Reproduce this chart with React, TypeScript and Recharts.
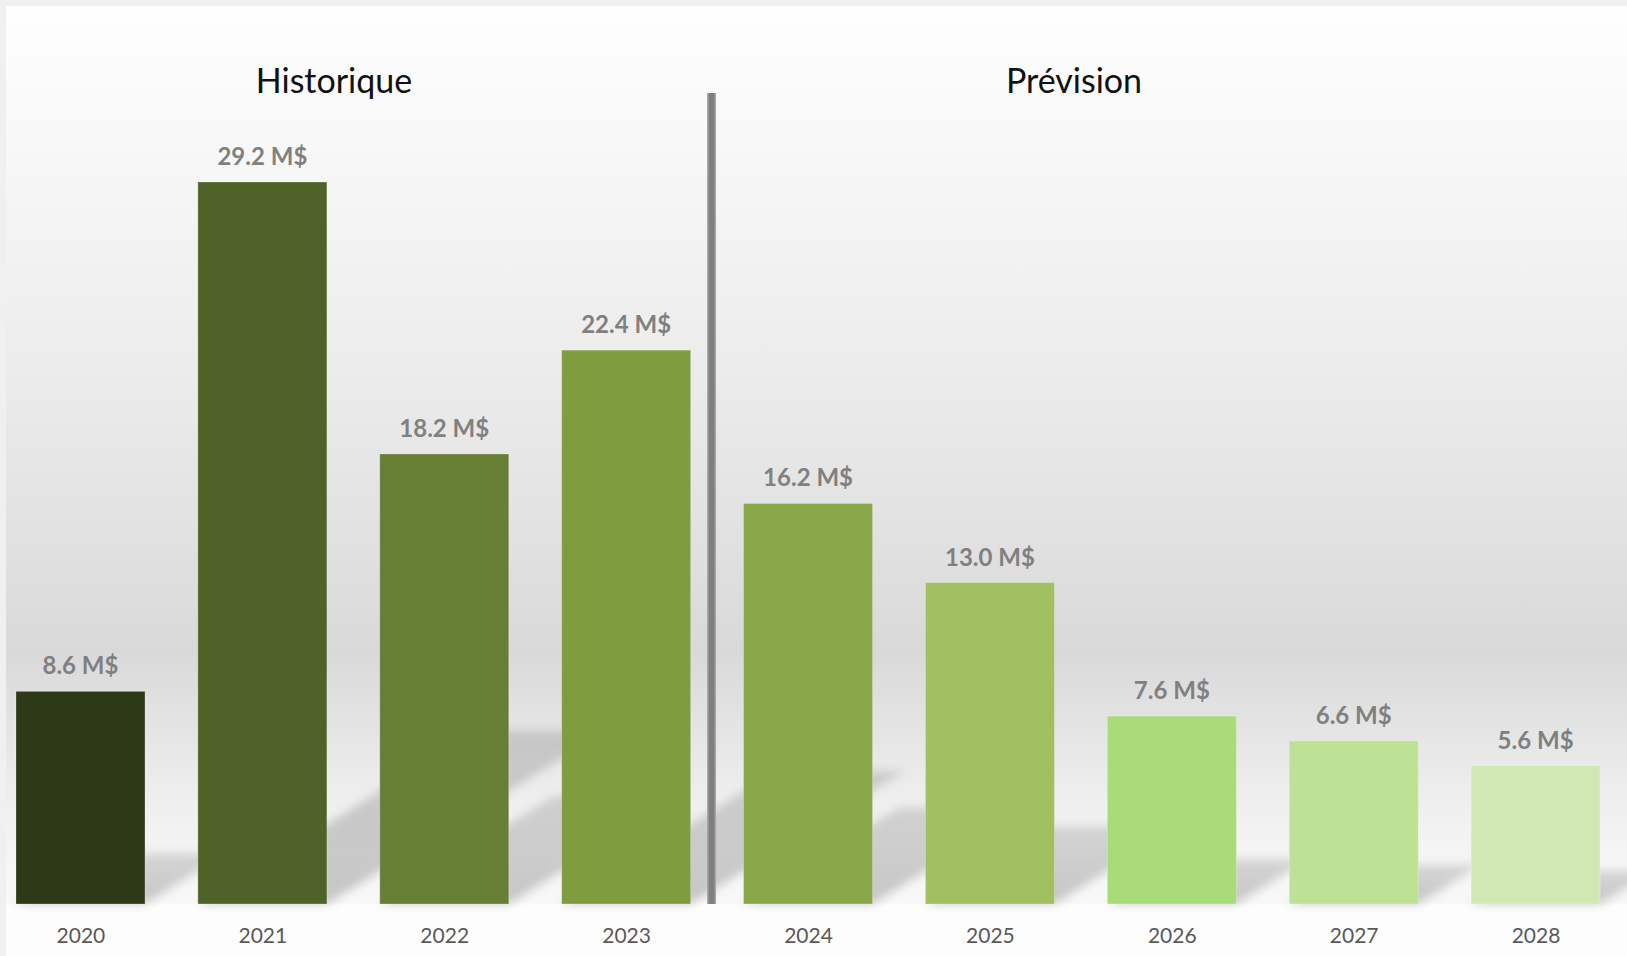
import React from "react";
import {
  BarChart,
  Bar,
  XAxis,
  YAxis,
  Cell,
  LabelList,
  ReferenceLine,
} from "recharts";

const years = ["2020", "2021", "2022", "2023", "2024", "2025", "2026", "2027", "2028"];
const values = [8.6, 29.2, 18.2, 22.4, 16.2, 13.0, 7.6, 6.6, 5.6];
const barColors = [
  "#2e3918",
  "#4f6228",
  "#677e35",
  "#7f9d3f",
  "#89a84a",
  "#a1c062",
  "#a9dc78",
  "#bde295",
  "#d0e9b3",
];
const sectionTitles = ["Historique", "Prévision"];
const splitYear = "2024";

const data = years.map((year, i) => ({ year, value: values[i] }));

const FONT = "Lato, 'Open Sans', sans-serif";

// bar with a skewed "perspective" shadow falling up and to the right
const ShadowBar = (props: any) => {
  const { x, y, width, height, index } = props;
  if (!height || height <= 0) return null;
  const base = y + height;
  const dy = height * 0.24;
  const dx = dy / 0.62;
  const pts = [
    [x, base],
    [x + width, base],
    [x + width + dx, base - dy],
    [x + dx, base - dy],
  ]
    .map((p) => p.join(","))
    .join(" ");
  return (
    <g>
      <polygon points={pts} fill="url(#shadowFade)" filter="url(#shadowBlur)" />
      <rect
        x={x}
        y={y}
        width={width}
        height={height}
        fill={barColors[index]}
        stroke="rgba(255,255,255,0.25)"
        strokeWidth={1}
      />
    </g>
  );
};

const SplitLine = (props: any) => {
  const { x1, y1, y2 } = props;
  const x = x1 - 6;
  return (
    <g>
      <line x1={x} x2={x} y1={y1} y2={y2} stroke="#a6a6a6" strokeWidth={9} />
      <line x1={x} x2={x} y1={y1} y2={y2} stroke="#7f7f7f" strokeWidth={6} />
    </g>
  );
};

export default function App() {
  return (
    <div
      style={{
        position: "absolute",
        left: 0,
        top: 0,
        width: 1627,
        height: 956,
        overflow: "hidden",
        background: "#f0f0f0",
      }}
    >
      <div
        style={{
          position: "absolute",
          left: 6,
          top: 6,
          right: 0,
          bottom: 0,
          background:
            "linear-gradient(to bottom, #fefefe 0px, #fafafa 90px, #f0f0f0 290px, #e4e4e4 490px, #d9d9d9 645px, #e1e1e1 700px, #eeeeee 790px, #f5f5f5 850px, #f8f8f8 897px, #fdfdfd 899px, #fdfdfd 950px)",
        }}
      />
      <div style={{ position: "absolute", left: -10, top: 0 }}>
        <BarChart
          width={1637}
          height={956}
          data={data}
          margin={{ top: 93, right: 0, bottom: 0, left: 0 }}
          barSize={129}
        >
          <defs>
            <filter id="shadowBlur" x="-30%" y="-30%" width="160%" height="160%">
              <feGaussianBlur stdDeviation="5" />
            </filter>
            <linearGradient id="shadowFade" x1="0" y1="1" x2="0" y2="0">
              <stop offset="0%" stopColor="#000" stopOpacity={0.2} />
              <stop offset="100%" stopColor="#000" stopOpacity={0.13} />
            </linearGradient>
          </defs>
          <XAxis
            dataKey="year"
            axisLine={false}
            tickLine={false}
            interval={0}
            height={52}
            tickMargin={18}
            tick={{ fill: "#595959", fontSize: 21, fontFamily: FONT }}
          />
          <YAxis hide domain={[0, 32.8]} />
          <Bar dataKey="value" isAnimationActive={false} shape={ShadowBar}>
            {data.map((d, i) => (
              <Cell key={d.year} fill={barColors[i]} />
            ))}
            <LabelList
              dataKey="value"
              position="top"
              offset={17}
              formatter={(v: any) => `${Number(v).toFixed(1)} M$`}
              style={{ fill: "#808080", fontSize: 24, fontWeight: 700, fontFamily: FONT }}
            />
          </Bar>
          <ReferenceLine
            x={splitYear}
            position="start"
            stroke="#7f7f7f"
            strokeWidth={6}
            shape={SplitLine}
            ifOverflow="visible"
          />
        </BarChart>
      </div>
      <svg
        width={1627}
        height={956}
        style={{ position: "absolute", left: 0, top: 0, pointerEvents: "none" }}
      >
        <text x={334} y={93} textAnchor="middle" fontSize={34} fontFamily={FONT} fill="#111">
          {sectionTitles[0]}
        </text>
        <text x={1074} y={93} textAnchor="middle" fontSize={34} fontFamily={FONT} fill="#111">
          {sectionTitles[1]}
        </text>
      </svg>
    </div>
  );
}
